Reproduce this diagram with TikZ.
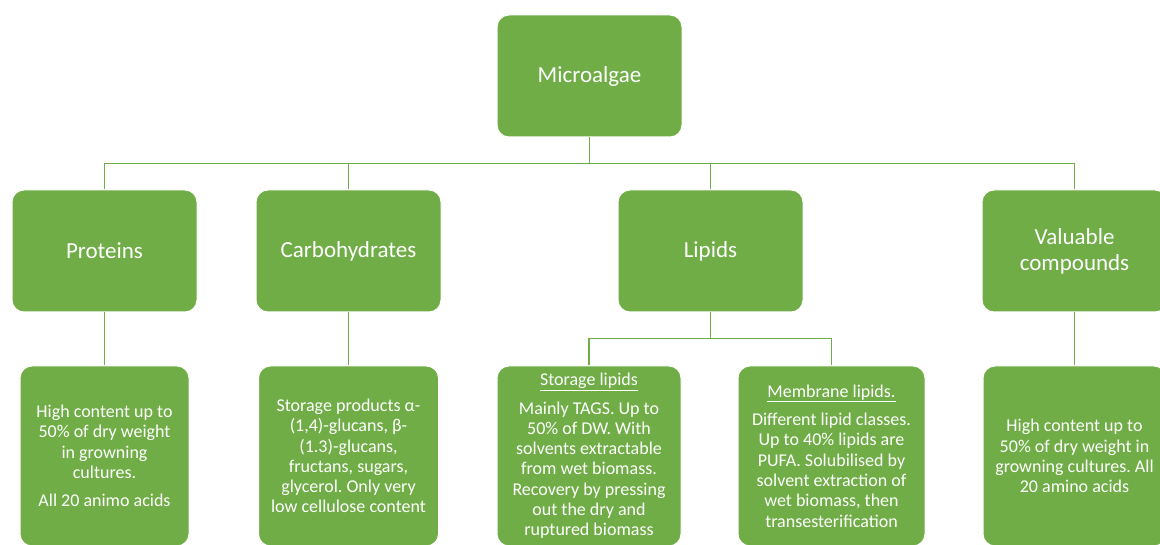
\documentclass[tikz,border=0pt]{standalone}
\usepackage{fontspec}
\setmainfont{Carlito}
\frenchspacing
\definecolor{leaf}{HTML}{70AD47}
\usetikzlibrary{positioning}
\tikzset{
  head/.style={draw=white,line width=1pt,rounded corners=12pt,fill=leaf,text=white,align=center,
               minimum width=185pt,minimum height=122pt,inner sep=2pt,font=\fontsize{23}{26}\selectfont},
  info/.style={head,minimum height=180pt,font=\fontsize{18}{20.3}\selectfont},
  link/.style={draw=leaf,line width=1.5pt}
}
\begin{document}
\begin{tikzpicture}[x=1pt,y=1pt]
  \useasboundingbox (0,0) rectangle (1160,-545);
  \node[head] (root) at (589.5,-76) {Microalgae};
  % second level
  \node[head] (prot) at (104.5,-251) {Proteins};
  \node[head] (carb) at (348.5,-251) {Carbohydrates};
  \node[head] (lip) at (710.5,-251) {Lipids};
  \node[head] (val) at (1074.5,-251) {Valuable\\compounds};
  \foreach \k in {prot,carb,lip,val}
    \draw[link] (root.south) -- ++(0,-26) -| (\k.north);
  % third level
  \node[info,minimum width=169pt,below=53pt of prot] (protinfo)
    {High content up to\\50\% of dry weight\\in growning\\cultures.\\[8pt]All 20 animo acids};
  \node[info,minimum width=180pt,below=53pt of carb] (carbinfo)
    {Storage products α-\\(1,4)-glucans, β-\\(1.3)-glucans,\\fructans, sugars,\\glycerol. Only very\\low cellulose content};
  \node[info,minimum width=184pt,below=53pt of lip,xshift=-121.5pt] (store)
    {\underline{Storage lipids}\\[8pt]Mainly TAGS. Up to\\50\% of DW. With\\solvents extractable\\from wet biomass.\\Recovery by pressing\\out the dry and\\ruptured biomass};
  \node[info,minimum width=187pt,below=53pt of lip,xshift=121pt] (memb)
    {\underline{Membrane lipids.}\\[8pt]Different lipid classes.\\Up to 40\% lipids are\\PUFA. Solubilised by\\solvent extraction of\\wet biomass, then\\transesterification};
  \node[info,minimum width=183pt,below=53pt of val] (valinfo)
    {High content up to\\50\% of dry weight in\\growning cultures. All\\20 amino acids};
  \draw[link] (prot) -- (protinfo);
  \draw[link] (carb) -- (carbinfo);
  \draw[link] (val) -- (valinfo);
  \draw[link] (lip.south) -- ++(0,-26) -| (store.north);
  \draw[link] (lip.south) -- ++(0,-26) -| (memb.north);
\end{tikzpicture}
\end{document}
